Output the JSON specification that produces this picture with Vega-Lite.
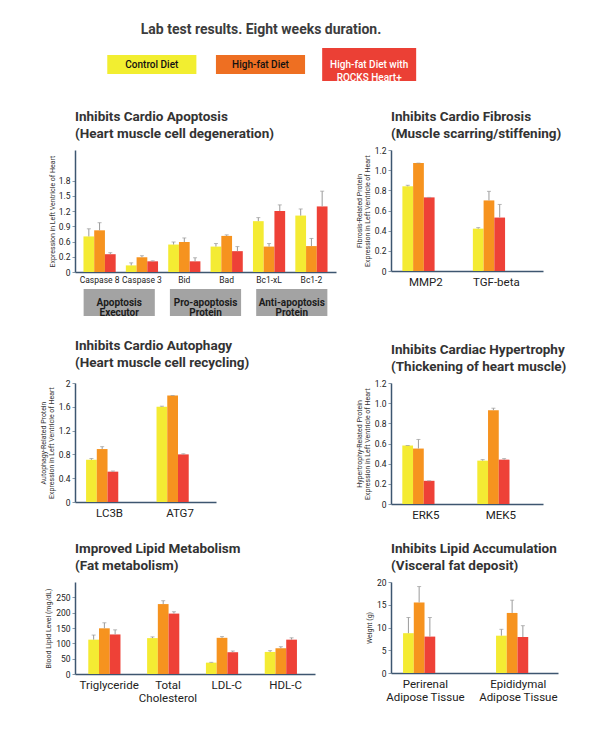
{
  "$schema": "https://vega.github.io/schema/vega-lite/v6.json",
  "padding": {"left": 39, "top": 23, "right": 5, "bottom": 5},
  "background": "white",
  "config": {
    "font": "Roboto",
    "view": {"stroke": null},
    "title": {"font": "Roboto", "fontSize": 13.5, "fontWeight": "bold", "anchor": "start", "frame": "group", "color": "#333333", "lineHeight": 17, "offset": 10},
    "axis": {"domainColor": "#3d5670", "domainWidth": 1.5, "grid": false, "labelColor": "#222222", "titleColor": "#333333", "titleFont": "Roboto", "labelFont": "Roboto", "labelOverlap": false},
    "axisY": {"ticks": true, "tickSize": 3, "tickColor": "#8a9aa8", "labelFontSize": 8.5, "labelPadding": 2, "titleFontSize": 7, "titleFontWeight": "normal", "titlePadding": 4, "titleLineHeight": 7.5},
    "axisX": {"ticks": false, "labelAngle": 0, "labelFontSize": 11.5, "labelPadding": 5, "labelLineHeight": 13}
  },
  "datasets": {
    "legend": [
      {"diet": "Control Diet", "label": "Control Diet"},
      {"diet": "High-fat Diet", "label": "High-fat Diet"},
      {"diet": "High-fat Diet with ROCKS Heart+", "label": "High-fat Diet with\nROCKS Heart+"}
    ],
    "groups": [
      {"group": "Apoptosis Executor"},
      {"group": "Pro-apoptosis Protein"},
      {"group": "Anti-apoptosis Protein"}
    ],
    "apop": [
      {"cat": "Caspase 8", "diet": "Control Diet", "v": 0.70, "hi": 0.85},
      {"cat": "Caspase 8", "diet": "High-fat Diet", "v": 0.82, "hi": 0.97},
      {"cat": "Caspase 8", "diet": "High-fat Diet with ROCKS Heart+", "v": 0.35, "hi": 0.38},
      {"cat": "Caspase 3", "diet": "Control Diet", "v": 0.13, "hi": 0.18},
      {"cat": "Caspase 3", "diet": "High-fat Diet", "v": 0.29, "hi": 0.32},
      {"cat": "Caspase 3", "diet": "High-fat Diet with ROCKS Heart+", "v": 0.21, "hi": 0.22},
      {"cat": "Bid", "diet": "Control Diet", "v": 0.54, "hi": 0.59},
      {"cat": "Bid", "diet": "High-fat Diet", "v": 0.59, "hi": 0.67},
      {"cat": "Bid", "diet": "High-fat Diet with ROCKS Heart+", "v": 0.21, "hi": 0.28},
      {"cat": "Bad", "diet": "Control Diet", "v": 0.50, "hi": 0.56},
      {"cat": "Bad", "diet": "High-fat Diet", "v": 0.71, "hi": 0.73},
      {"cat": "Bad", "diet": "High-fat Diet with ROCKS Heart+", "v": 0.41, "hi": 0.50},
      {"cat": "Bc1-xL", "diet": "Control Diet", "v": 1.00, "hi": 1.07},
      {"cat": "Bc1-xL", "diet": "High-fat Diet", "v": 0.50, "hi": 0.56},
      {"cat": "Bc1-xL", "diet": "High-fat Diet with ROCKS Heart+", "v": 1.20, "hi": 1.32},
      {"cat": "Bc1-2", "diet": "Control Diet", "v": 1.11, "hi": 1.24},
      {"cat": "Bc1-2", "diet": "High-fat Diet", "v": 0.51, "hi": 0.66},
      {"cat": "Bc1-2", "diet": "High-fat Diet with ROCKS Heart+", "v": 1.29, "hi": 1.59}
    ],
    "fib": [
      {"cat": "MMP2", "diet": "Control Diet", "v": 0.84, "hi": 0.85},
      {"cat": "MMP2", "diet": "High-fat Diet", "v": 1.07, "hi": 1.07},
      {"cat": "MMP2", "diet": "High-fat Diet with ROCKS Heart+", "v": 0.73, "hi": 0.73},
      {"cat": "TGF-beta", "diet": "Control Diet", "v": 0.42, "hi": 0.43},
      {"cat": "TGF-beta", "diet": "High-fat Diet", "v": 0.70, "hi": 0.79},
      {"cat": "TGF-beta", "diet": "High-fat Diet with ROCKS Heart+", "v": 0.53, "hi": 0.66}
    ],
    "auto": [
      {"cat": "LC3B", "diet": "Control Diet", "v": 0.71, "hi": 0.73},
      {"cat": "LC3B", "diet": "High-fat Diet", "v": 0.89, "hi": 0.93},
      {"cat": "LC3B", "diet": "High-fat Diet with ROCKS Heart+", "v": 0.51, "hi": 0.52},
      {"cat": "ATG7", "diet": "Control Diet", "v": 1.60, "hi": 1.61},
      {"cat": "ATG7", "diet": "High-fat Diet", "v": 1.79, "hi": 1.79},
      {"cat": "ATG7", "diet": "High-fat Diet with ROCKS Heart+", "v": 0.80, "hi": 0.81}
    ],
    "hyp": [
      {"cat": "ERK5", "diet": "Control Diet", "v": 0.58, "hi": 0.58},
      {"cat": "ERK5", "diet": "High-fat Diet", "v": 0.55, "hi": 0.64},
      {"cat": "ERK5", "diet": "High-fat Diet with ROCKS Heart+", "v": 0.23, "hi": 0.23},
      {"cat": "MEK5", "diet": "Control Diet", "v": 0.43, "hi": 0.44},
      {"cat": "MEK5", "diet": "High-fat Diet", "v": 0.93, "hi": 0.95},
      {"cat": "MEK5", "diet": "High-fat Diet with ROCKS Heart+", "v": 0.44, "hi": 0.45}
    ],
    "lipid": [
      {"cat": "Triglyceride", "diet": "Control Diet", "v": 112, "hi": 127},
      {"cat": "Triglyceride", "diet": "High-fat Diet", "v": 149, "hi": 167},
      {"cat": "Triglyceride", "diet": "High-fat Diet with ROCKS Heart+", "v": 129, "hi": 144},
      {"cat": "Total Cholesterol", "diet": "Control Diet", "v": 117, "hi": 121},
      {"cat": "Total Cholesterol", "diet": "High-fat Diet", "v": 228, "hi": 239},
      {"cat": "Total Cholesterol", "diet": "High-fat Diet with ROCKS Heart+", "v": 197, "hi": 203},
      {"cat": "LDL-C", "diet": "Control Diet", "v": 37, "hi": 38},
      {"cat": "LDL-C", "diet": "High-fat Diet", "v": 118, "hi": 122},
      {"cat": "LDL-C", "diet": "High-fat Diet with ROCKS Heart+", "v": 71, "hi": 75},
      {"cat": "HDL-C", "diet": "Control Diet", "v": 72, "hi": 76},
      {"cat": "HDL-C", "diet": "High-fat Diet", "v": 84, "hi": 89},
      {"cat": "HDL-C", "diet": "High-fat Diet with ROCKS Heart+", "v": 112, "hi": 118}
    ],
    "fat": [
      {"cat": "Perirenal Adipose Tissue", "diet": "Control Diet", "v": 8.75, "hi": 12.2},
      {"cat": "Perirenal Adipose Tissue", "diet": "High-fat Diet", "v": 15.5, "hi": 19.0},
      {"cat": "Perirenal Adipose Tissue", "diet": "High-fat Diet with ROCKS Heart+", "v": 8.0, "hi": 12.2},
      {"cat": "Epididymal Adipose Tissue", "diet": "Control Diet", "v": 8.2, "hi": 9.6},
      {"cat": "Epididymal Adipose Tissue", "diet": "High-fat Diet", "v": 13.2, "hi": 16.0},
      {"cat": "Epididymal Adipose Tissue", "diet": "High-fat Diet with ROCKS Heart+", "v": 7.9, "hi": 10.4}
    ]
  },
  "bounds": "flush",
  "align": "each",
  "columns": 3,
  "spacing": {"row": 17, "column": 55},
  "concat": [
    {
      "width": 261,
      "height": 33,
      "title": {"text": "Lab test results. Eight weeks duration.", "anchor": "middle", "dx": 55.5, "fontSize": 14, "offset": 11, "color": "#3c3c3c"},
      "data": {"name": "legend"},
      "layer": [
        {
          "mark": {"type": "rect"},
          "encoding": {
            "x": {"field": "diet", "type": "nominal", "axis": null, "scale": {"type": "band", "domain": ["Control Diet", "High-fat Diet", "High-fat Diet with ROCKS Heart+"], "range": [0, 371], "paddingInner": 0.18, "paddingOuter": 0.297}},
            "y": {"datum": "k", "type": "nominal", "axis": null, "scale": {"type": "band", "paddingInner": 0, "paddingOuter": 0.368}},
            "color": {"field": "diet", "type": "nominal", "legend": null, "scale": {"domain": ["Control Diet", "High-fat Diet", "High-fat Diet with ROCKS Heart+"], "range": ["#F2EE30", "#EE6F22", "#EB4035"]}}
          }
        },
        {
          "transform": [{"filter": "datum.diet == 'High-fat Diet with ROCKS Heart+'"}],
          "mark": {"type": "rect", "color": "#EB4035"},
          "encoding": {
            "x": {"field": "diet", "type": "nominal", "axis": null, "scale": {"type": "band", "domain": ["Control Diet", "High-fat Diet", "High-fat Diet with ROCKS Heart+"], "range": [0, 371], "paddingInner": 0.135, "paddingOuter": 0.2745}},
            "y": {"datum": "k", "type": "nominal", "axis": null, "scale": {"type": "band", "paddingInner": 0, "paddingOuter": 0}}
          }
        },
        {
          "mark": {"type": "text", "lineBreak": "\n", "fontSize": 10, "lineHeight": 13.5, "font": "Roboto", "fontWeight": 500, "align": "center", "baseline": "middle"},
          "encoding": {
            "x": {"field": "diet", "type": "nominal", "axis": null, "bandPosition": 0.5, "scale": {"type": "band", "domain": ["Control Diet", "High-fat Diet", "High-fat Diet with ROCKS Heart+"], "range": [0, 371], "paddingInner": 0.18, "paddingOuter": 0.297}},
            "y": {"datum": "k", "type": "nominal", "axis": null, "bandPosition": 0.5, "scale": {"type": "band", "paddingInner": 0, "paddingOuter": 0}},
            "text": {"field": "label"},
            "color": {"condition": {"test": "datum.diet == 'High-fat Diet with ROCKS Heart+'", "value": "#ffffff"}, "value": "#111111"}
          }
        }
      ],
      "resolve": {"scale": {"x": "independent", "y": "independent", "color": "independent"}}
    },
    {"width": 1, "height": 85, "data": {"values": []}, "mark": "point"},
    {"width": 1, "height": 1, "data": {"values": []}, "mark": "point"},
    {
      "width": 261,
      "height": 122,
      "title": {"text": ["Inhibits Cardio Apoptosis", "(Heart muscle cell degeneration)"]},
      "data": {"name": "apop"},
      "encoding": {
        "x": {"field": "cat", "type": "nominal", "sort": null, "title": null, "scale": {"paddingInner": 0.24, "paddingOuter": 0.2, "align": 0.5}, "axis": {"labelFontSize": 8.5, "labelPadding": 3}},
        "xOffset": {"field": "diet", "type": "nominal", "sort": ["Control Diet", "High-fat Diet", "High-fat Diet with ROCKS Heart+"]}
      },
      "layer": [
        {
          "mark": {"type": "bar"},
          "encoding": {
            "y": {"field": "v", "type": "quantitative", "scale": {"domain": [0, 2.4], "nice": false}, "axis": {"values": [0, 0.3, 0.6, 0.9, 1.2, 1.5, 1.8], "tickCount": 30, "labelOverlap": false, "labelExpr": "datum.value == 0 ? '0' : datum.value == 0.3 ? '0.2' : format(datum.value, '.1f')", "title": "Expression in Left Ventricle of Heart", "titlePadding": 3}},
            "color": {"field": "diet", "type": "nominal", "legend": null, "scale": {"domain": ["Control Diet", "High-fat Diet", "High-fat Diet with ROCKS Heart+"], "range": ["#F4EB33", "#F6931F", "#EE4137"]}}
          }
        },
        {
          "mark": {"type": "rule", "color": "#9a9a9a", "strokeWidth": 1},
          "encoding": {"y": {"field": "v", "type": "quantitative", "scale": {"domain": [0, 2.4], "nice": false}}, "y2": {"field": "hi"}}
        },
        {
          "mark": {"type": "tick", "color": "#9a9a9a", "thickness": 1, "size": 4},
          "encoding": {"y": {"field": "hi", "type": "quantitative", "scale": {"domain": [0, 2.4], "nice": false}}}
        }
      ]
    },
    {
      "width": 152,
      "height": 121,
      "title": {"text": ["Inhibits Cardio Fibrosis", "(Muscle scarring/stiffening)"], "offset": 6},
      "data": {"name": "fib"},
      "encoding": {
        "x": {"field": "cat", "type": "nominal", "sort": null, "title": null, "scale": {"paddingInner": 0.333, "paddingOuter": 0.245, "align": 0.33}},
        "xOffset": {"field": "diet", "type": "nominal", "sort": ["Control Diet", "High-fat Diet", "High-fat Diet with ROCKS Heart+"]}
      },
      "layer": [
        {
          "mark": {"type": "bar"},
          "encoding": {
            "y": {"field": "v", "type": "quantitative", "scale": {"domain": [0, 1.2], "nice": false}, "axis": {"values": [0, 0.2, 0.4, 0.6, 0.8, 1.0, 1.2], "tickCount": 30, "labelOverlap": false, "labelExpr": "datum.value == 0 ? '0' : format(datum.value, '.1f')", "title": ["Fibrosis-Related Protein", "Expression in Left Ventricle of Heart"]}},
            "color": {"field": "diet", "type": "nominal", "legend": null, "scale": {"domain": ["Control Diet", "High-fat Diet", "High-fat Diet with ROCKS Heart+"], "range": ["#F4EB33", "#F6931F", "#EE4137"]}}
          }
        },
        {
          "mark": {"type": "rule", "color": "#9a9a9a", "strokeWidth": 1},
          "encoding": {"y": {"field": "v", "type": "quantitative", "scale": {"domain": [0, 1.2], "nice": false}}, "y2": {"field": "hi"}}
        },
        {
          "mark": {"type": "tick", "color": "#9a9a9a", "thickness": 1, "size": 4},
          "encoding": {"y": {"field": "hi", "type": "quantitative", "scale": {"domain": [0, 1.2], "nice": false}}}
        }
      ]
    },
    {"width": 1, "height": 1, "data": {"values": []}, "mark": "point"},
    {
      "width": 261,
      "height": 27,
      "data": {"name": "groups"},
      "encoding": {
        "x": {"field": "group", "type": "nominal", "sort": null, "axis": null, "scale": {"paddingInner": 0.175, "paddingOuter": 0.1}}
      },
      "layer": [
        {"mark": {"type": "rect", "color": "#a3a3a3"}},
        {"mark": {"type": "text", "lineBreak": " ", "fontSize": 10, "fontWeight": "bold", "lineHeight": 10.5, "color": "#1c1c1c", "font": "Roboto"}, "encoding": {"text": {"field": "group"}}}
      ]
    },
    {"width": 1, "height": 77, "data": {"values": []}, "mark": "point"},
    {"width": 1, "height": 1, "data": {"values": []}, "mark": "point"},
    {
      "width": 141,
      "height": 119,
      "title": {"text": ["Inhibits Cardio Autophagy", "(Heart muscle cell recycling)"]},
      "data": {"name": "auto"},
      "encoding": {
        "x": {"field": "cat", "type": "nominal", "sort": null, "title": null, "scale": {"paddingInner": 0.333, "paddingOuter": 0.167, "align": 0.47}},
        "xOffset": {"field": "diet", "type": "nominal", "sort": ["Control Diet", "High-fat Diet", "High-fat Diet with ROCKS Heart+"]}
      },
      "layer": [
        {
          "mark": {"type": "bar"},
          "encoding": {
            "y": {"field": "v", "type": "quantitative", "scale": {"domain": [0, 2], "nice": false}, "axis": {"values": [0, 0.4, 0.8, 1.2, 1.6, 2], "tickCount": 30, "labelOverlap": false, "labelExpr": "format(datum.value, '~g')", "title": ["Autophagy-Related Protein", "Expression in Left Ventricle of Heart"]}},
            "color": {"field": "diet", "type": "nominal", "legend": null, "scale": {"domain": ["Control Diet", "High-fat Diet", "High-fat Diet with ROCKS Heart+"], "range": ["#F4EB33", "#F6931F", "#EE4137"]}}
          }
        },
        {
          "mark": {"type": "rule", "color": "#9a9a9a", "strokeWidth": 1},
          "encoding": {"y": {"field": "v", "type": "quantitative", "scale": {"domain": [0, 2], "nice": false}}, "y2": {"field": "hi"}}
        },
        {
          "mark": {"type": "tick", "color": "#9a9a9a", "thickness": 1, "size": 4},
          "encoding": {"y": {"field": "hi", "type": "quantitative", "scale": {"domain": [0, 2], "nice": false}}}
        }
      ]
    },
    {
      "width": 152,
      "height": 121,
      "title": {"text": ["Inhibits Cardiac Hypertrophy", "(Thickening of heart muscle)"], "offset": 6},
      "data": {"name": "hyp"},
      "encoding": {
        "x": {"field": "cat", "type": "nominal", "sort": null, "title": null, "scale": {"paddingInner": 0.373, "paddingOuter": 0.2, "align": 0.377}},
        "xOffset": {"field": "diet", "type": "nominal", "sort": ["Control Diet", "High-fat Diet", "High-fat Diet with ROCKS Heart+"]}
      },
      "layer": [
        {
          "mark": {"type": "bar"},
          "encoding": {
            "y": {"field": "v", "type": "quantitative", "scale": {"domain": [0, 1.2], "nice": false}, "axis": {"values": [0, 0.2, 0.4, 0.6, 0.8, 1.0, 1.2], "tickCount": 30, "labelOverlap": false, "labelExpr": "datum.value == 0 ? '0' : format(datum.value, '.1f')", "title": ["Hypertrophy-Related Protein", "Expression in Left Ventricle of Heart"]}},
            "color": {"field": "diet", "type": "nominal", "legend": null, "scale": {"domain": ["Control Diet", "High-fat Diet", "High-fat Diet with ROCKS Heart+"], "range": ["#F4EB33", "#F6931F", "#EE4137"]}}
          }
        },
        {
          "mark": {"type": "rule", "color": "#9a9a9a", "strokeWidth": 1},
          "encoding": {"y": {"field": "v", "type": "quantitative", "scale": {"domain": [0, 1.2], "nice": false}}, "y2": {"field": "hi"}}
        },
        {
          "mark": {"type": "tick", "color": "#9a9a9a", "thickness": 1, "size": 4},
          "encoding": {"y": {"field": "hi", "type": "quantitative", "scale": {"domain": [0, 1.2], "nice": false}}}
        }
      ]
    },
    {"width": 1, "height": 182, "data": {"values": []}, "mark": "point"},
    {
      "width": 240,
      "height": 92,
      "title": {"text": ["Improved Lipid Metabolism", "(Fat metabolism)"]},
      "data": {"name": "lipid"},
      "encoding": {
        "x": {"field": "cat", "type": "nominal", "sort": null, "title": null, "scale": {"paddingInner": 0.29, "paddingOuter": 0.185, "align": 0.61}, "axis": {"labelExpr": "datum.label == 'Total Cholesterol' ? ['Total', 'Cholesterol'] : datum.label"}},
        "xOffset": {"field": "diet", "type": "nominal", "sort": ["Control Diet", "High-fat Diet", "High-fat Diet with ROCKS Heart+"]}
      },
      "layer": [
        {
          "mark": {"type": "bar"},
          "encoding": {
            "y": {"field": "v", "type": "quantitative", "scale": {"domain": [0, 300], "nice": false}, "axis": {"values": [0, 50, 100, 150, 200, 250], "format": "d", "tickCount": 30, "labelOverlap": false, "title": "Blood Lipid Level (mg/dL)"}},
            "color": {"field": "diet", "type": "nominal", "legend": null, "scale": {"domain": ["Control Diet", "High-fat Diet", "High-fat Diet with ROCKS Heart+"], "range": ["#F4EB33", "#F6931F", "#EE4137"]}}
          }
        },
        {
          "mark": {"type": "rule", "color": "#9a9a9a", "strokeWidth": 1},
          "encoding": {"y": {"field": "v", "type": "quantitative", "scale": {"domain": [0, 300], "nice": false}}, "y2": {"field": "hi"}}
        },
        {
          "mark": {"type": "tick", "color": "#9a9a9a", "thickness": 1, "size": 4},
          "encoding": {"y": {"field": "hi", "type": "quantitative", "scale": {"domain": [0, 300], "nice": false}}}
        }
      ]
    },
    {
      "width": 167,
      "height": 91,
      "title": {"text": ["Inhibits Lipid Accumulation", "(Visceral fat deposit)"], "offset": 6},
      "data": {"name": "fat"},
      "encoding": {
        "x": {"field": "cat", "type": "nominal", "sort": null, "title": null, "scale": {"paddingInner": 0.52, "paddingOuter": 0.158, "align": 0.41}, "axis": {"labelExpr": "datum.label == 'Perirenal Adipose Tissue' ? ['Perirenal', 'Adipose Tissue'] : ['Epididymal', 'Adipose Tissue']"}},
        "xOffset": {"field": "diet", "type": "nominal", "sort": ["Control Diet", "High-fat Diet", "High-fat Diet with ROCKS Heart+"]}
      },
      "layer": [
        {
          "mark": {"type": "bar"},
          "encoding": {
            "y": {"field": "v", "type": "quantitative", "scale": {"domain": [0, 20], "nice": false}, "axis": {"values": [0, 5, 10, 15, 20], "format": "d", "tickCount": 30, "labelOverlap": false, "title": "Weight (g)"}},
            "color": {"field": "diet", "type": "nominal", "legend": null, "scale": {"domain": ["Control Diet", "High-fat Diet", "High-fat Diet with ROCKS Heart+"], "range": ["#F4EB33", "#F6931F", "#EE4137"]}}
          }
        },
        {
          "mark": {"type": "rule", "color": "#9a9a9a", "strokeWidth": 1},
          "encoding": {"y": {"field": "v", "type": "quantitative", "scale": {"domain": [0, 20], "nice": false}}, "y2": {"field": "hi"}}
        },
        {
          "mark": {"type": "tick", "color": "#9a9a9a", "thickness": 1, "size": 4},
          "encoding": {"y": {"field": "hi", "type": "quantitative", "scale": {"domain": [0, 20], "nice": false}}}
        }
      ]
    },
    {"width": 1, "height": 1, "data": {"values": []}, "mark": "point"}
  ]
}
